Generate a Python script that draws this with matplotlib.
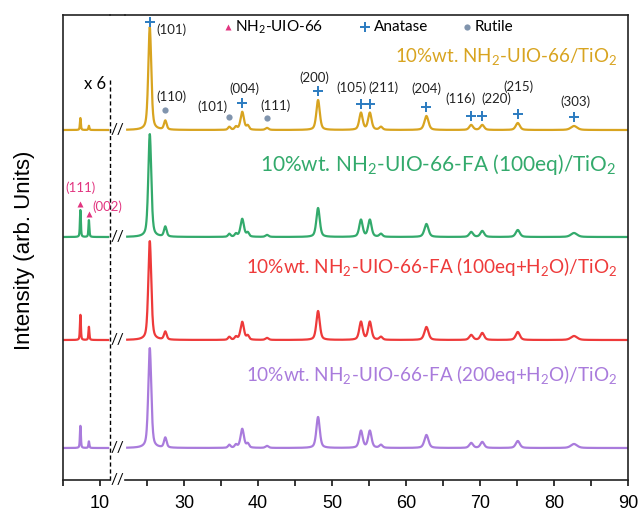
import numpy as np
import matplotlib.pyplot as plt
from matplotlib.lines import Line2D

plt.rcParams['mathtext.fontset'] = 'custom'
plt.rcParams['mathtext.rm'] = 'Lato'
plt.rcParams['font.family'] = ['Lato', 'DejaVu Sans']

# series (top to bottom), colours and vertical offsets (arb. units)
labels = [
    r'10%wt. NH$_\mathregular{2}$-UIO-66/TiO$_\mathregular{2}$',
    r'10%wt. NH$_\mathregular{2}$-UIO-66-FA (100eq)/TiO$_\mathregular{2}$',
    r'10%wt. NH$_\mathregular{2}$-UIO-66-FA (100eq+H$_\mathregular{2}$O)/TiO$_\mathregular{2}$',
    r'10%wt. NH$_\mathregular{2}$-UIO-66-FA (200eq+H$_\mathregular{2}$O)/TiO$_\mathregular{2}$',
]
label_sizes = [13.5, 15, 13.6, 13.6]
colors = ['#d8a420', '#33aa6c', '#ee3a3a', '#a97bdc']
offsets = [350, 243, 140, 32]

# TiO2 reflections (2theta, fwhm) and heights per series
tio2_pos = [25.35, 27.45, 36.1, 37.0, 37.85, 38.6, 41.2, 48.1, 53.9, 55.1, 56.6, 62.75, 68.8, 70.3, 75.1, 82.7]
tio2_fwhm = [0.48, 0.42, 0.4, 0.4, 0.55, 0.4, 0.5, 0.55, 0.55, 0.55, 0.5, 0.65, 0.6, 0.6, 0.65, 1.0]
h_gold = [103, 9, 3, 3, 18, 4, 2, 30, 17, 17, 3, 14, 5, 5, 7, 4]
h_green = [103, 10, 3, 3, 18, 4, 2, 29, 17, 17, 3, 13, 5, 6, 7, 4]
h_red = [99, 8, 3, 3, 18, 4, 2, 29, 18, 18, 3, 13, 5, 7, 8, 4]
h_purple = [100, 10, 3, 3, 19, 4, 2, 31, 17, 17, 3, 13, 5, 6, 7, 4]
tio2_heights = [h_gold, h_green, h_red, h_purple]

# NH2-UIO-66 low-angle reflections (shown x6)
mof_pos = [7.35, 8.5]
mof_fwhm = [0.15, 0.15]
mof_heights = [[2.0, 0.7], [4.5, 2.8], [4.2, 2.2], [3.7, 1.1]]
LOW_SCALE = 6

anatase_pos = [25.35, 37.85, 48.1, 53.9, 55.1, 62.75, 68.8, 70.3, 75.1, 82.7]
anatase_hkl = ['(101)', '(004)', '(200)', '(105)', '(211)', '(204)', '(116)', '(220)', '(215)', '(303)']
rutile_pos = [27.45, 36.1, 41.2]
rutile_hkl = ['(110)', '(101)', '(111)']
mof_hkl = ['(111)', '(002)']


def pattern(x, pos, fwhm, heights):
    y = np.zeros_like(x)
    for p, w, h in zip(pos, fwhm, heights):
        d = (x - p) / w
        y += h * (0.5 * np.exp(-4 * np.log(2) * d ** 2) + 0.5 / (1 + 4 * d ** 2))
    return y


x_lo = np.linspace(5.0, 11.1, 400)
x_hi = np.linspace(22.3, 90, 2500)

fig = plt.figure(figsize=(6.39, 5.11), dpi=100)
W, H = 639, 511
ax1 = fig.add_axes([63 / W, 31 / H, 47 / W, 465 / H])
ax2 = fig.add_axes([125 / W, 31 / H, 503 / W, 465 / H])

curves_hi = []
for i in range(4):
    y_lo = offsets[i] + LOW_SCALE * pattern(x_lo, mof_pos, mof_fwhm, mof_heights[i])
    y_hi = offsets[i] + pattern(x_hi, tio2_pos, tio2_fwhm, tio2_heights[i])
    curves_hi.append(y_hi)
    ax1.plot(x_lo, y_lo, color=colors[i], lw=1.6)
    ax2.plot(x_hi, y_hi, color=colors[i], lw=1.6)
    ax2.text(88.5, offsets[i] + 73, labels[i], color=colors[i], fontsize=label_sizes[i],
             ha='right', va='center')
    ax2.text(21.0, offsets[i], '//', fontsize=11, ha='center', va='center', clip_on=False)

for ax in (ax1, ax2):
    ax.set_ylim(0, 465)
    ax.set_yticks([])
    for s in ax.spines.values():
        s.set_linewidth(1.2)
        s.set_color('#222222')
    ax.tick_params(axis='x', which='both', direction='out', length=4, width=1.1,
                   labelsize=13, pad=7)

ax1.set_xlim(5, 11.35)
ax1.set_xticks([10])
ax1.set_xticks([5], minor=True)
ax1.spines['right'].set_visible(False)
ax2.set_xlim(22, 90)
ax2.set_xticks(np.arange(30, 91, 10))
ax2.set_xticks(np.arange(25, 90, 10), minor=True)
ax2.spines['left'].set_visible(False)
for ax in (ax1, ax2):
    for lab in ax.get_xticklabels():
        lab.set_fontfamily('Liberation Sans')

ax2.text(21.0, 0, '//', fontsize=11, ha='center', va='center', clip_on=False)
fig.add_artist(Line2D([110 / W, 125 / W], [1 - 15 / H] * 2, color='#222222', lw=1.2))
ax1.axvline(11.3, ymin=0, ymax=0.86, color='k', lw=1, ls=(0, (3, 2)), clip_on=False)
ax1.text(10.8, 396, 'x 6', fontsize=12, ha='right', va='center')

fig.text(25 / W, 1 - 250 / H, 'Intensity (arb. Units)', rotation=90, ha='center',
         va='center', fontsize=16, family='Liberation Sans')

# phase markers on top pattern
gold = curves_hi[0]
blue, grey, pink = '#2b7bc0', '#8094ad', '#e23580'
a_off = [(7, -8, 'left'), (2, 14, 'center'), (-4, 13, 'center'), (-10, 16, 'center'),
         (14, 16, 'center'), (0, 18, 'center'), (-11, 17, 'center'), (14, 17, 'center'),
         (1, 27, 'center'), (1, 15, 'center')]
for k, (p, hkl) in enumerate(zip(anatase_pos, anatase_hkl)):
    yv = np.interp(p, x_hi, gold) + (5 if k == 0 else 9)
    ax2.plot(p, yv, marker='+', color=blue, ms=7, mew=1.4, clip_on=False)
    dx, dy, ha = a_off[k]
    ax2.annotate(hkl, (p, yv), xytext=(dx, dy), textcoords='offset pixels',
                 fontsize=9.5, ha=ha, va='center', color='#222222')
r_off = [(6, 14), (-17, 10), (8, 12)]
for k, (p, hkl) in enumerate(zip(rutile_pos, rutile_hkl)):
    yv = np.interp(p, x_hi, gold) + 10
    ax2.plot(p, yv, marker='o', color=grey, ms=4.5, mec='none')
    dx, dy = r_off[k]
    ax2.annotate(hkl, (p, yv), xytext=(dx, dy), textcoords='offset pixels',
                 fontsize=9.5, ha='center', va='center', color='#222222')

green_lo = offsets[1] + LOW_SCALE * pattern(x_lo, mof_pos, mof_fwhm, mof_heights[1])
m_off = [(0, 16, 'center'), (3, 7, 'left')]
for k, (p, hkl) in enumerate(zip(mof_pos, mof_hkl)):
    yv = np.interp(p, x_lo, green_lo) + 6
    ax1.plot(p, yv, marker='^', color=pink, ms=5, mec='none')
    dx, dy, ha = m_off[k]
    ax1.annotate(hkl, (p, yv), xytext=(dx, dy), textcoords='offset pixels',
                 fontsize=9.5, ha=ha, va='center', color=pink, annotation_clip=False)

# legend row
leg_y = 453
ax2.plot(35.9, leg_y, marker='^', color=pink, ms=5, mec='none', clip_on=False)
ax2.text(36.9, leg_y, r'NH$_\mathregular{2}$-UIO-66', fontsize=11, va='center')
ax2.plot(54.4, leg_y, marker='+', color=blue, ms=7, mew=1.4, clip_on=False)
ax2.text(55.7, leg_y, 'Anatase', fontsize=11, va='center')
ax2.plot(68.2, leg_y, marker='o', color=grey, ms=4.5, mec='none', clip_on=False)
ax2.text(69.2, leg_y, 'Rutile', fontsize=11, va='center')

fig.savefig('out.png', dpi=100)
